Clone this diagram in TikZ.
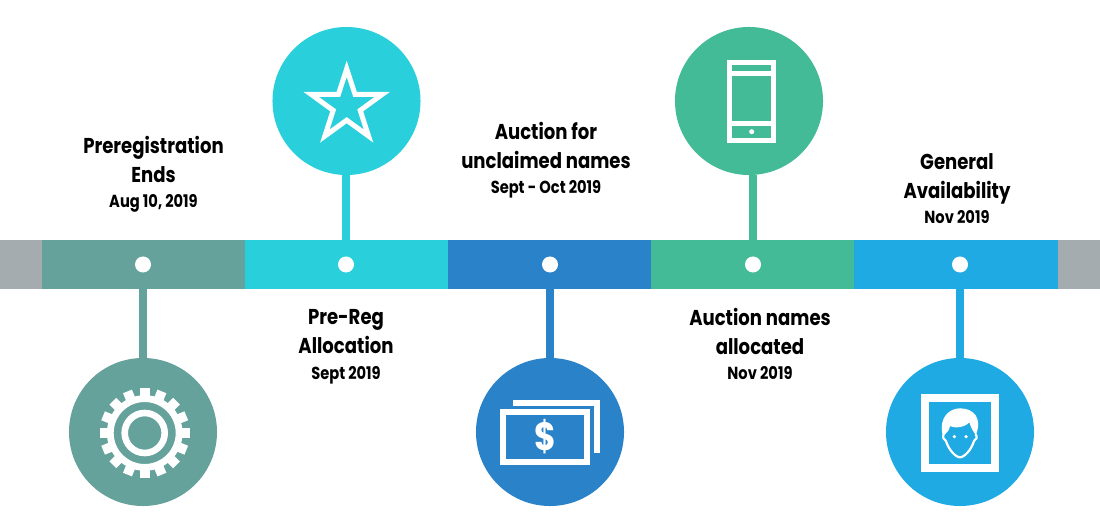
\documentclass[tikz,border=0pt]{standalone}
\usepackage{fontspec}
\setmainfont{Poppins}[FakeStretch=0.84,BoldFont={Poppins Bold}]
\usetikzlibrary{shapes.geometric}
\definecolor{tealc}{HTML}{66A29C}
\definecolor{cyanc}{HTML}{29CFDB}
\definecolor{bluec}{HTML}{2A82C8}
\definecolor{greenc}{HTML}{43BB96}
\definecolor{skyc}{HTML}{1FAAE4}
\definecolor{grayc}{HTML}{A5ACB0}
\tikzset{
  segbox/.style={rectangle,inner sep=0,minimum width=5.09cm,minimum height=1.225cm},
  endbox/.style={rectangle,inner sep=0,fill=grayc,minimum width=1.05cm,minimum height=1.225cm},
  dot/.style={circle,fill=white,inner sep=0,minimum size=0.4cm},
  disc/.style={circle,inner sep=0,minimum size=3.7cm},
  stem/.style={line width=0.2cm},
  titletxt/.style={align=center,font=\fontsize{15.3}{20.6}\selectfont\bfseries},
  datetxt/.style={inner sep=0,text height=8.7pt,text depth=0pt,font=\fontsize{12.4}{14}\selectfont\bfseries},
  icon/.style={draw=white,line width=0.125cm,line join=miter}
}
\begin{document}
\begin{tikzpicture}[x=0.025cm,y=-0.025cm]
\useasboundingbox (0,0) rectangle (1100,531);

% bar
\draw (21,264.5) node[endbox] (endL) {};
\draw (143.5,264.5) node[segbox,fill=tealc] (seg1) {};
\draw (346.5,264.5) node[segbox,fill=cyanc] (seg2) {};
\draw (549.5,264.5) node[segbox,fill=bluec] (seg3) {};
\draw (752.5,264.5) node[segbox,fill=greenc] (seg4) {};
\draw (956,264.5) node[segbox,fill=skyc] (seg5) {};
\draw (1079,264.5) node[endbox] (endR) {};

\draw (143,264.5) node[dot] (dot1) {};
\draw (346,264.5) node[dot] (dot2) {};
\draw (550,264.5) node[dot] (dot3) {};
\draw (753,264.5) node[dot] (dot4) {};
\draw (960,264.5) node[dot] (dot5) {};

\draw (143,432) node[disc,fill=tealc] (disc1) {};
\draw (346.5,101) node[disc,fill=cyanc] (disc2) {};
\draw (550,432) node[disc,fill=bluec] (disc3) {};
\draw (749,101) node[disc,fill=greenc] (disc4) {};
\draw (960,432) node[disc,fill=skyc] (disc5) {};

\draw[stem,tealc] (dot1) -- (disc1);
\draw[stem,cyanc] (dot2) -- (dot2 |- disc2.south);
\draw[stem,bluec] (dot3) -- (disc3);
\draw[stem,greenc] (dot4) -- (dot4 |- disc4.south);
\draw[stem,skyc] (dot5) -- (disc5);

% gear
\begin{scope}[shift={(144.7,433)}]
\fill[white,even odd rule] (0,0) circle (37.8) (0,0) circle (31);
\foreach \a in {0,22.5,...,337.5}
  \fill[white,rotate=\a] (35,-4.8) rectangle (45,4.8);
\draw[white,line width=0.165cm] (0,0) circle (20);
\end{scope}

% star
\draw (346.7,106) node[star,star points=5,star point ratio=2.618,draw=white,line width=0.125cm,
  inner sep=0,minimum size=1.86cm,miter limit=10] (starIcon) {};

% money
\draw[icon,line width=0.15cm] (513,403) -- (596.5,403) -- (596.5,452.8);
\draw[icon,line width=0.15cm] (503,412.2) rectangle (587,462.2);
\draw (545,437) node[font=\fontsize{28}{28}\selectfont\bfseries,text=white] (dollarIcon) {\$};

% phone
\draw[icon] (729,62.5) rectangle (773.8,140.8);
\draw[icon] (729,73.6) -- (773.8,73.6);
\draw[icon] (729,123.8) -- (773.8,123.8);
\fill[white] (751.7,131.7) circle (2.5);

% face
\draw[icon,line width=0.2cm] (925,398) rectangle (994.5,467.8);
\begin{scope}[shift={(870,350)},scale=1/3]
\fill[white] (217,252) .. controls (207,200) and (240,175) .. (270,175)
  .. controls (312,175) and (337,205) .. (318,254)
  .. controls (310,247) and (304,235) .. (298,217)
  .. controls (285,232) and (255,236) .. (240,228)
  .. controls (238,240) and (232,247) .. (224,254) -- cycle;
\draw[white,line width=0.055cm] (221,252) .. controls (217,262) and (221,270) .. (228,273)
  .. controls (235,297) and (255,321) .. (270,322)
  .. controls (285,321) and (305,297) .. (312,273)
  .. controls (319,270) and (323,262) .. (317,252);
\fill[white] (253,260) circle (5.5) (288,260) circle (5.5);
\end{scope}

% texts
\draw (153.5,159.5) node[titletxt] (title1) {Preregistration\\Ends};
\draw (153.5,201) node[datetxt] (date1) {Aug 10, 2019};
\draw (346,331.5) node[titletxt] (title2) {Pre-Reg\\Allocation};
\draw (346,373) node[datetxt] (date2) {Sept 2019};
\draw (546,145.5) node[titletxt] (title3) {Auction for\\unclaimed names};
\draw (546,187) node[datetxt] (date3) {Sept - Oct 2019};
\draw (760,331) node[titletxt] (title4) {Auction names\\allocated};
\draw (760,373) node[datetxt] (date4) {Nov 2019};
\draw (957,178.5) node[titletxt] (title5) {General\\Availability};
\draw (957,217) node[datetxt] (date5) {Nov 2019};

\end{tikzpicture}
\end{document}
